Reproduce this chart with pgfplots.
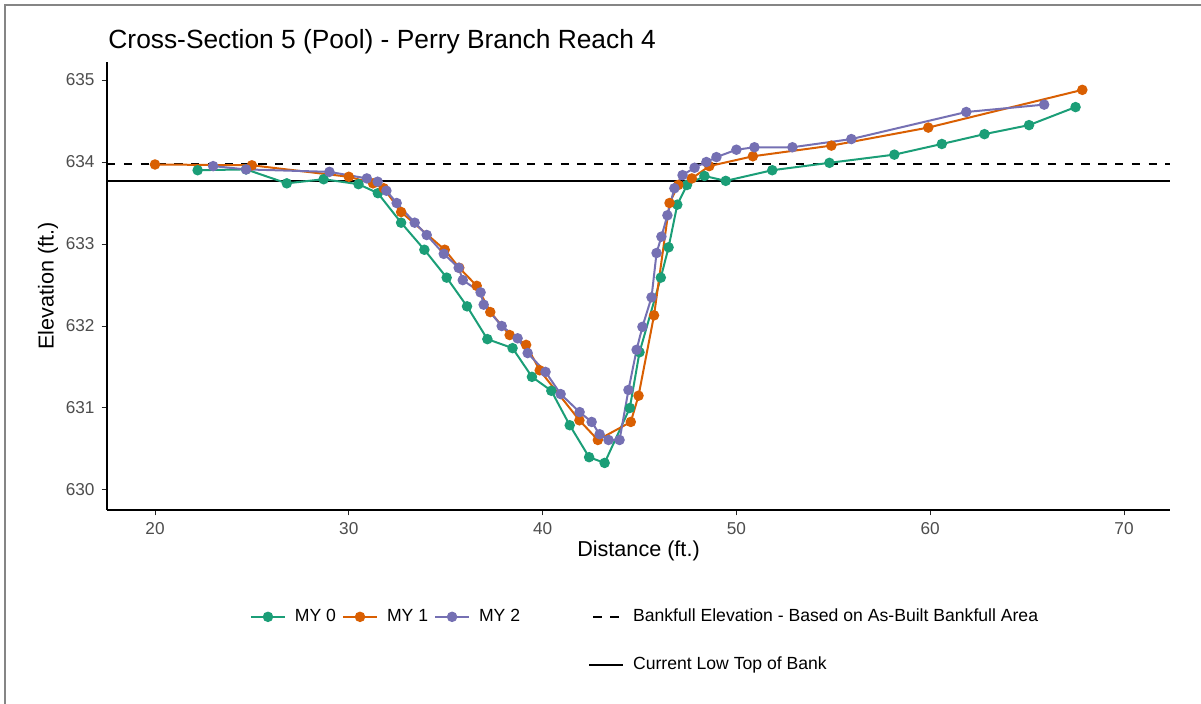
\documentclass[border=0pt]{standalone}
\usepackage{pgfplots}
\pgfplotsset{compat=1.18}
\usepackage{fontspec}
\setmainfont{Liberation Sans}
\definecolor{myz}{HTML}{1B9E77}
\definecolor{myo}{HTML}{D95F02}
\definecolor{myt}{HTML}{7570B3}
\definecolor{tickgray}{HTML}{4D4D4D}
\definecolor{framegray}{HTML}{858585}
\begin{document}
\begin{tikzpicture}
\path[use as bounding box] (0,0) rectangle (600.5bp,352bp);
\draw[framegray, line width=1bp] (2.5bp,0) -- (2.5bp,349.5bp) -- (600.5bp,349.5bp);
\begin{axis}[
  at={(53.5bp,97bp)}, anchor=south west,
  scale only axis, width=531.5bp, height=224bp,
  xmin=17.523, xmax=72.374, ymin=629.756, ymax=635.22,
  axis x line*=bottom, axis y line*=left,
  axis line style={black, line width=0.55bp},
  tick align=outside, major tick length=2.7bp,
  tick style={black!85, line width=0.5bp},
  xtick={20,30,...,70}, ytick={630,631,...,635},
  /pgf/number format/assume math mode=true,
  /pgf/number format/set thousands separator={},
  tick label style={font=\fontsize{8.6bp}{10bp}\selectfont, text=tickgray},
  xlabel={Distance (ft.)}, ylabel={Elevation (ft.)},
  label style={font=\fontsize{10.8bp}{12bp}\selectfont},
  xlabel style={at={(axis description cs:0.5,-0.0915)}, anchor=center},
  ylabel style={at={(axis description cs:-0.0555,0.5)}, anchor=center},
  title={Cross-Section 5 (Pool) - Perry Branch Reach 4},
  title style={at={(axis description cs:0.001,1.0045)}, anchor=base west, font=\fontsize{13.17bp}{15bp}\selectfont, inner sep=0pt},
  clip=false,
  legend columns=4,
  legend cell align=left,
  legend style={draw=none, fill=none, at={(axis description cs:0.1345,-0.212)}, anchor=north west,
    font=\fontsize{8.8bp}{10bp}\selectfont, inner sep=0pt, outer sep=0pt, row sep=12bp,
    /tikz/every odd column/.append style={column sep=2.5bp},
    /tikz/every even column/.append style={column sep=1bp}},
  legend image code/.code={\draw[mark repeat=2,mark phase=2,#1] plot coordinates {(0bp,0bp) (8.5bp,0bp) (17bp,0bp)};},
]
\addplot[black, line width=1bp, dash pattern=on 4.2bp off 4.2bp, forget plot] coordinates {(17.523,633.976) (72.374,633.976)};
\addplot[black, line width=1bp, forget plot] coordinates {(17.523,633.768) (72.374,633.768)};

\addplot[myz, line width=1bp, mark=*, mark size=2.1bp, mark options={solid, fill=myz}, forget plot] coordinates {
(22.2,633.90) (24.7,633.91) (26.8,633.74) (28.7,633.79) (30.5,633.73) (31.5,633.62)
(32.7,633.26) (33.9,632.93) (35.05,632.59) (36.1,632.24) (37.15,631.84) (38.45,631.73)
(39.45,631.38) (40.45,631.21) (41.4,630.79) (42.4,630.40) (43.2,630.33) (44.5,631.00)
(45.0,631.68) (46.1,632.59) (46.5,632.96) (46.95,633.48) (47.45,633.72) (48.35,633.83)
(49.45,633.77) (51.85,633.90) (54.8,633.99) (58.15,634.09) (60.6,634.22) (62.8,634.34)
(65.1,634.45) (67.5,634.67)};

\addplot[myo, line width=1bp, mark=*, mark size=2.1bp, mark options={solid, fill=myo}, forget plot] coordinates {
(20.0,633.97) (25.0,633.96) (30.0,633.82) (31.25,633.74) (31.8,633.68) (32.7,633.39)
(34.95,632.93) (35.7,632.71) (36.6,632.49) (37.3,632.17) (38.3,631.89) (39.15,631.77)
(39.85,631.46) (41.9,630.85) (42.85,630.61) (44.55,630.83) (44.95,631.15) (45.75,632.13)
(46.55,633.50) (47.0,633.72) (47.7,633.80) (48.6,633.95) (50.85,634.07) (54.9,634.20)
(59.9,634.42) (67.85,634.88)};

\addplot[myt, line width=1bp, mark=*, mark size=2.1bp, mark options={solid, fill=myt}, forget plot] coordinates {
(23.0,633.95) (24.7,633.91) (29.0,633.88) (30.93,633.80) (31.49,633.76) (31.94,633.65)
(32.47,633.50) (33.40,633.26) (34.02,633.11) (34.9,632.88) (35.67,632.71) (35.88,632.56)
(36.8,632.41) (36.96,632.26) (37.89,632.00) (38.71,631.85) (39.23,631.67) (40.15,631.44)
(40.93,631.17) (41.91,630.95) (42.53,630.83) (42.94,630.68) (43.4,630.61) (43.97,630.61)
(44.43,631.22) (44.85,631.71) (45.15,631.99) (45.62,632.35) (45.88,632.89) (46.13,633.09)
(46.44,633.35) (46.8,633.68) (47.22,633.84) (47.84,633.93) (48.45,634.00) (48.97,634.06)
(50.0,634.15) (50.93,634.18) (52.89,634.18) (55.93,634.28) (61.86,634.61) (65.88,634.70)};

\addlegendimage{myz, line width=1bp, mark=*, mark size=2.1bp, mark options={fill=myz}}
\addlegendentry{MY 0}
\addlegendimage{myo, line width=1bp, mark=*, mark size=2.1bp, mark options={fill=myo}}
\addlegendentry{MY 1}
\addlegendimage{myt, line width=1bp, mark=*, mark size=2.1bp, mark options={fill=myt}}
\addlegendentry{MY 2\rule{31bp}{0pt}}
\addlegendimage{black, line width=1bp, dash pattern=on 4.2bp off 4.2bp, dash phase=6.3bp}
\addlegendentry{Bankfull Elevation - Based on As-Built Bankfull Area}
\addlegendimage{empty legend}
\addlegendentry{}
\addlegendimage{empty legend}
\addlegendentry{}
\addlegendimage{empty legend}
\addlegendentry{}
\addlegendimage{black, line width=1bp}
\addlegendentry{Current Low Top of Bank}
\end{axis}
\end{tikzpicture}
\end{document}
